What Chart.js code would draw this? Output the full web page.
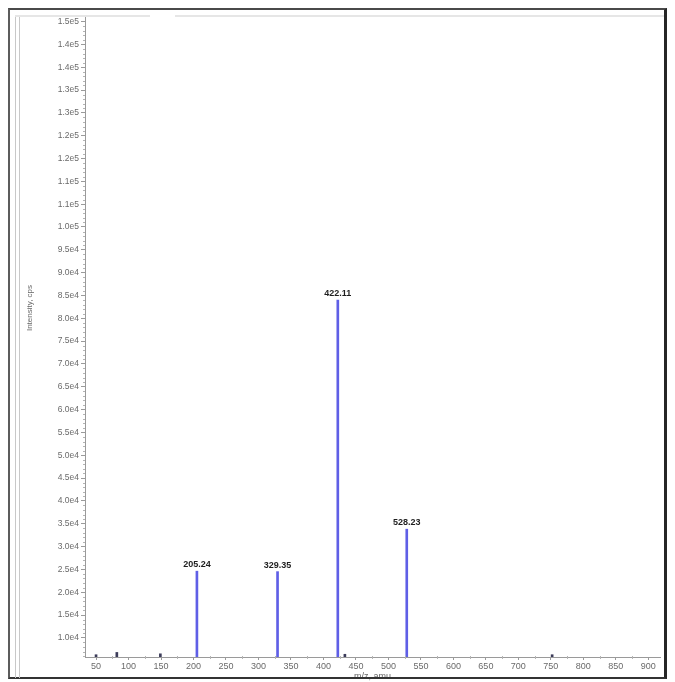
<!DOCTYPE html>
<html>
<head>
<meta charset="utf-8">
<title>Mass spectrum</title>
<script src="https://cdn.jsdelivr.net/npm/chart.js@4/dist/chart.umd.min.js"></script>
<style>
  html, body { margin: 0; padding: 0; background: #fff; }
  #wrap { position: relative; width: 675px; height: 682px; overflow: hidden; }
  #spectrum { position: absolute; left: 0; top: 0; }
  .deco { position: absolute; pointer-events: none; }
  .frame { left: 8px; top: 8px; width: 654px; height: 667px;
           border-top: 2px solid #4a4a4a; border-left: 2px solid #5c5c5c;
           border-right: 3px solid #262626; border-bottom: 2px solid #333; }
  .vline { width: 1px; top: 16px; height: 662px; background: #c8c8c8; }
  .hline { height: 2px; top: 15px; background: #e6e6e6; }
</style>
</head>
<body>
<div id="wrap">
  <canvas id="spectrum" width="675" height="682"></canvas>
  <div class="deco frame"></div>
  <div class="deco vline" style="left:15px"></div>
  <div class="deco vline" style="left:19px"></div>
  <div class="deco hline" style="left:15px;width:135px"></div>
  <div class="deco hline" style="left:175px;width:489px"></div>
</div>
<script>
// m/z axis tick positions
const mzTicks = [50, 100, 150, 200, 250, 300, 350, 400, 450, 500, 550, 600, 650, 700, 750, 800, 850, 900];

// intensity axis ticks and their printed labels (instrument rounding)
const intensityTicks = [10000, 15000, 20000, 25000, 30000, 35000, 40000, 45000, 50000, 55000,
  60000, 65000, 70000, 75000, 80000, 85000, 90000, 95000, 100000, 105000,
  110000, 115000, 120000, 125000, 130000, 135000, 140000, 145000];
const intensityTickLabels = ['1.0e4', '1.5e4', '2.0e4', '2.5e4', '3.0e4', '3.5e4', '4.0e4', '4.5e4', '5.0e4', '5.5e4',
  '6.0e4', '6.5e4', '7.0e4', '7.5e4', '8.0e4', '8.5e4', '9.0e4', '9.5e4', '1.0e5', '1.1e5',
  '1.1e5', '1.2e5', '1.2e5', '1.3e5', '1.3e5', '1.4e5', '1.4e5', '1.5e5'];

// labelled peaks
const peakMz = [205.24, 329.35, 422.11, 528.23];
const peakIntensity = [24600, 24500, 84000, 33800];

// small baseline peaks
const minorMz = [50, 82, 149, 433, 752];
const minorIntensity = [6300, 6800, 6500, 6400, 6300];

const FONT = '"Liberation Sans", Arial, sans-serif';

const spectrumExtras = {
  id: 'spectrumExtras',
  afterDraw(chart) {
    const { ctx, scales: { x, y }, chartArea } = chart;
    ctx.save();
    // minor ticks along the intensity axis
    ctx.strokeStyle = '#b4b4b4';
    ctx.lineWidth = 1;
    ctx.beginPath();
    for (let v = 6000; v <= 145000; v += 1000) {
      if (v % 5000 === 0) continue;
      const py = Math.round(y.getPixelForValue(v)) + 0.5;
      ctx.moveTo(chartArea.left - 2, py);
      ctx.lineTo(chartArea.left, py);
    }
    // minor ticks along the m/z axis
    for (let m = 75; m <= 900; m += 50) {
      const px = Math.round(x.getPixelForValue(m)) + 0.5;
      ctx.moveTo(px, chartArea.bottom - 1);
      ctx.lineTo(px, chartArea.bottom + 2);
    }
    ctx.stroke();

    // peak labels
    ctx.font = 'bold 9px ' + FONT;
    ctx.fillStyle = '#1e1e1e';
    ctx.textAlign = 'center';
    ctx.textBaseline = 'bottom';
    peakMz.forEach((m, i) => {
      ctx.fillText(m.toFixed(2), x.getPixelForValue(m), y.getPixelForValue(peakIntensity[i]) - 2);
    });

    // intensity axis title
    ctx.translate(30, 308);
    ctx.rotate(-Math.PI / 2);
    ctx.font = '8px ' + FONT;
    ctx.fillStyle = '#666';
    ctx.textBaseline = 'middle';
    ctx.fillText('Intensity, cps', 0, 0);
    ctx.restore();
  }
};

new Chart(document.getElementById('spectrum'), {
  type: 'bar',
  data: {
    datasets: [
      {
        label: 'peaks',
        data: peakMz.map((m, i) => ({ x: m, y: peakIntensity[i] })),
        backgroundColor: '#5f5fe6',
        barThickness: 2,
        grouped: false
      },
      {
        label: 'baseline',
        data: minorMz.map((m, i) => ({ x: m, y: minorIntensity[i] })),
        backgroundColor: '#3c3c5a',
        barThickness: 2,
        grouped: false
      }
    ]
  },
  options: {
    responsive: false,
    animation: false,
    devicePixelRatio: 1,
    layout: { padding: { left: 20, top: 17, right: 15, bottom: 0 } },
    plugins: { legend: { display: false }, tooltip: { enabled: false }, title: { display: false } },
    scales: {
      x: {
        type: 'linear',
        offset: false,
        min: 33,
        max: 918,
        afterBuildTicks(scale) { scale.ticks = mzTicks.map(v => ({ value: v })); },
        afterFit(scale) { scale.height = 25; },
        border: { display: true, color: '#9a9a9a', width: 1 },
        grid: { offset: false, drawOnChartArea: false, drawTicks: true, tickLength: 3, color: '#9a9a9a' },
        ticks: {
          autoSkip: false,
          maxRotation: 0,
          padding: 1,
          color: '#6a6a6a',
          font: { family: FONT, size: 9 }
        },
        title: {
          display: true,
          text: 'm/z, amu',
          color: '#666',
          font: { family: FONT, size: 9 },
          padding: { top: 0, bottom: 0 }
        }
      },
      y: {
        type: 'linear',
        min: 5800,
        max: 146000,
        afterBuildTicks(scale) { scale.ticks = intensityTicks.map(v => ({ value: v })); },
        afterFit(scale) { scale.width = 65; },
        border: { display: true, color: '#9a9a9a', width: 1 },
        grid: { drawOnChartArea: false, drawTicks: true, tickLength: 4, color: '#9a9a9a' },
        ticks: {
          autoSkip: false,
          padding: 2,
          color: '#6a6a6a',
          font: { family: FONT, size: 8.5 },
          callback(value) {
            const k = intensityTicks.indexOf(value);
            return k >= 0 ? intensityTickLabels[k] : '';
          }
        }
      }
    }
  },
  plugins: [spectrumExtras]
});
</script>
</body>
</html>
